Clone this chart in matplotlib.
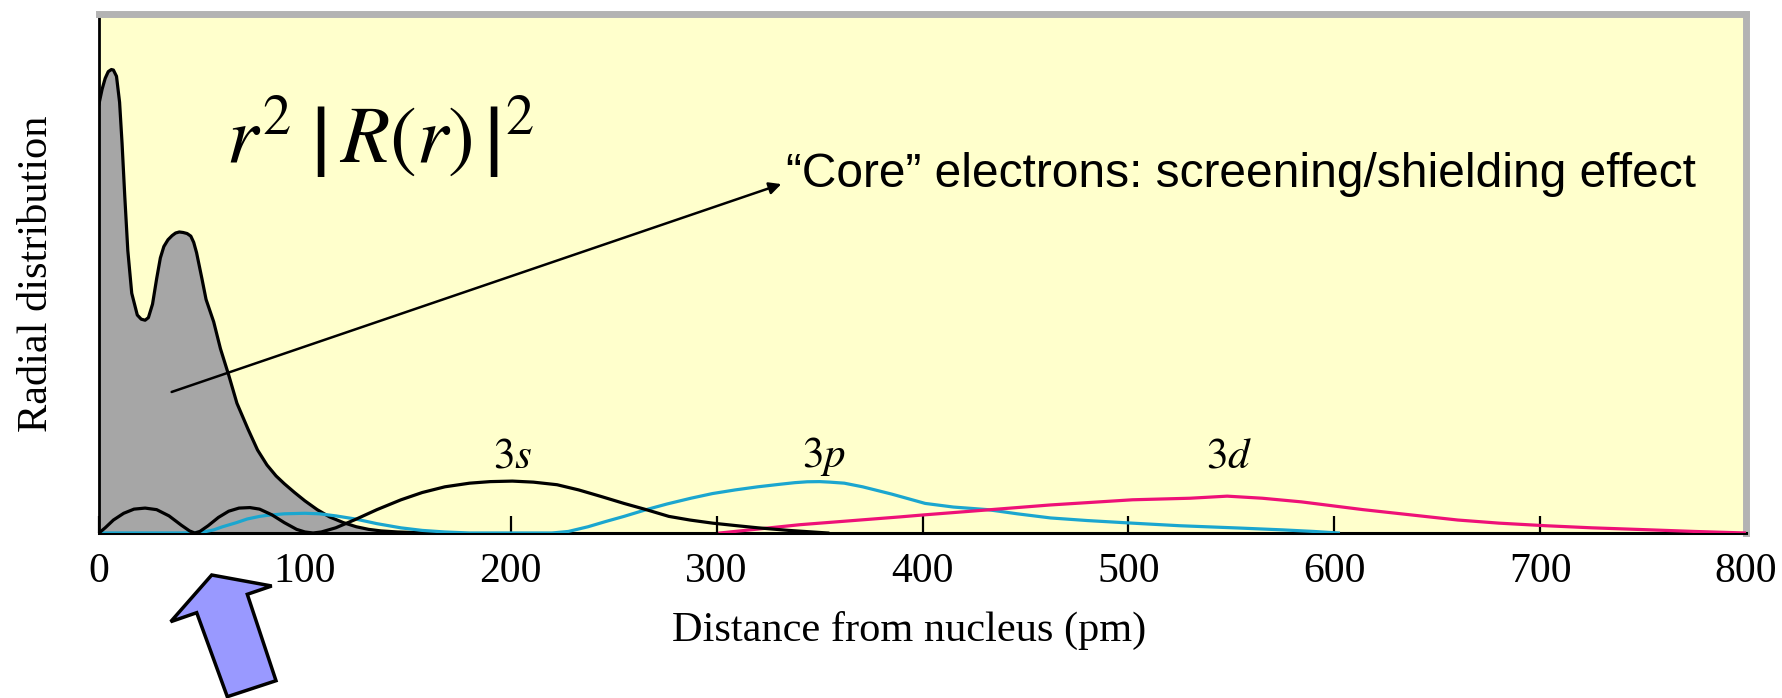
import numpy as np
import matplotlib
matplotlib.use("Agg")
import matplotlib.pyplot as plt
from matplotlib.patches import Polygon

plt.rcParams['font.family'] = ['Liberation Serif', 'DejaVu Serif']
plt.rcParams['mathtext.fontset'] = 'stix'

# envelope of the core electrons (shaded), distance in pm, height as fraction of axis
core_x = [0, 1.5, 3, 4.5, 6, 7, 8.5, 10, 11.2, 12.5, 14, 15.9, 18.6, 20.5, 22.4, 24, 26, 28,
          29.8, 31.5, 33.5, 35.5, 37.2, 39, 40.9, 42.8, 44.6, 46, 47.4, 50, 52, 55.7, 59, 63.1,
          67, 72.4, 77, 81.6, 86, 90, 95, 100, 106, 112, 118.7, 125, 131, 137, 145, 160]
core_y = [0.827, 0.855, 0.876, 0.889, 0.893, 0.892, 0.88, 0.83, 0.751, 0.65, 0.544, 0.462,
          0.42, 0.412, 0.41, 0.415, 0.441, 0.49, 0.53, 0.552, 0.565, 0.573, 0.578, 0.58, 0.579,
          0.577, 0.572, 0.56, 0.54, 0.49, 0.45, 0.407, 0.355, 0.303, 0.25, 0.20, 0.16, 0.131,
          0.11, 0.095, 0.078, 0.062, 0.045, 0.031, 0.020, 0.012, 0.007, 0.004, 0.002, 0.0]

# 3s (black)
s3_x = [0, 3, 7, 12, 17, 22.4, 28, 34, 40, 44, 46.5, 49, 53, 58, 63, 68, 73.3, 78, 84, 90, 96,
        100, 104, 108, 115, 124.5, 135, 146.7, 157, 168, 180, 190, 200.8, 211, 222.5, 233,
        244.2, 255, 265.8, 276.8, 287, 298, 310, 320, 335, 354]
s3_y = [0, 0.01, 0.025, 0.038, 0.046, 0.048, 0.045, 0.033, 0.015, 0.004, 0, 0.003, 0.014,
        0.03, 0.042, 0.048, 0.049, 0.046, 0.035, 0.02, 0.007, 0.002, 0, 0.002, 0.01, 0.026,
        0.045, 0.064, 0.078, 0.089, 0.096, 0.099, 0.10, 0.098, 0.093, 0.083, 0.070, 0.057,
        0.045, 0.032, 0.025, 0.019, 0.014, 0.01, 0.005, 0.0]

# 3p (cyan)
p3_x = [0, 20, 40, 48, 52, 55.7, 60, 66.8, 72, 78, 81.6, 90, 100, 107, 115, 124.5, 135, 146.7,
        157, 168, 180, 200, 220, 228, 237.5, 246, 255, 265.8, 276, 287.5, 298, 309, 320, 331,
        338, 344, 350, 355, 362, 370.9, 385, 401.3, 415, 431.7, 446, 462.2, 480, 501.8, 525,
        553.6, 575, 590, 602]
p3_y = [0, 0, 0, 0.001, 0.003, 0.006, 0.012, 0.02, 0.027, 0.032, 0.034, 0.037, 0.038, 0.037,
        0.033, 0.027, 0.018, 0.0099, 0.005, 0.002, 0.0, 0.0, 0.0, 0.003, 0.012, 0.022, 0.032,
        0.045, 0.056, 0.067, 0.076, 0.083, 0.089, 0.094, 0.097, 0.0987, 0.099, 0.098, 0.096,
        0.089, 0.075, 0.057, 0.05, 0.045, 0.037, 0.029, 0.024, 0.019, 0.014, 0.0096, 0.006,
        0.003, 0.0]

# 3d (magenta)
d3_x = [301.6, 340.5, 389, 401, 430, 462, 502, 530, 548, 565, 584, 600, 614, 637, 660, 680,
        702.8, 725, 751, 775, 800]
d3_y = [0, 0.016, 0.031, 0.035, 0.044, 0.054, 0.064, 0.067, 0.071, 0.067, 0.06, 0.052, 0.045,
        0.035, 0.025, 0.019, 0.014, 0.01, 0.0064, 0.003, 0.0]

orbital_labels = ['$3s$', '$3p$', '$3d$']
orbital_label_x = [201, 352, 549]
xticks = [0, 100, 200, 300, 400, 500, 600, 700, 800]

# block arrow below the axis, figure pixels (y from top)
blue_arrow_px = [(211.7, 575), (271.7, 586), (247.3, 594.3), (276, 680.7),
                 (227.3, 696.7), (196.7, 612.7), (170.7, 621.7)]

W, H = 1783, 698
fig = plt.figure(figsize=(W / 100, H / 100), dpi=100)
ax = fig.add_axes([99 / W, 1 - 533 / H, 1647 / W, 519 / H])
ax.set_facecolor('#ffffcc')

ax.fill_between(core_x, core_y, 0, color='#a6a6a6', lw=0, zorder=2)
ax.plot(core_x, core_y, color='black', lw=2.3, zorder=3)
ax.plot(p3_x, p3_y, color='#1ba6cf', lw=2.3, zorder=4)
ax.plot(s3_x, s3_y, color='black', lw=2.3, zorder=5)
ax.plot(d3_x, d3_y, color='#ee1177', lw=2.3, zorder=4)

for lab, lx in zip(orbital_labels, orbital_label_x):
    ax.text(lx, 0.127, lab, ha='center', va='baseline', fontsize=31)

ax.text(0.077, 0.714, r'$r^{2}\;\left|\,R(r)\,\right|^{2}$', transform=ax.transAxes,
        fontsize=58, ha='left', va='baseline')

ax.annotate('', xy=(332.7, 0.674), xytext=(34, 0.27),
            arrowprops=dict(arrowstyle='-|>', color='black', lw=1.8, mutation_scale=18),
            zorder=6)
ax.text(333.5, 0.69, u'\u201cCore\u201d electrons: screening/shielding effect',
        fontsize=34.5, family=['Liberation Sans', 'DejaVu Sans'], ha='left', va='center')

ax.set_xlim(0, 800)
ax.set_ylim(0, 1)
ax.set_xticks(xticks)
ax.set_yticks([])
ax.tick_params(axis='x', direction='in', length=12, width=1.6, labelsize=30, pad=14)
ax.set_xlabel('Distance from nucleus (pm)', fontsize=30.5)
ax.xaxis.set_label_coords(0.492, -0.15)
ax.set_ylabel('Radial distribution', fontsize=30.5)
ax.yaxis.set_label_coords(-0.026, 0.5)

ax.spines['left'].set_linewidth(2)
ax.spines['bottom'].set_linewidth(2.2)
for side in ['top', 'right']:
    ax.spines[side].set_color('#b3b3b3')
    ax.spines[side].set_linewidth(5)

pts = [(x / W, 1 - y / H) for x, y in blue_arrow_px]
fig.patches.append(Polygon(pts, closed=True, facecolor='#9999ff', edgecolor='black',
                           lw=2.5, transform=fig.transFigure, figure=fig))

fig.savefig('out.png', dpi=100, facecolor='white')
